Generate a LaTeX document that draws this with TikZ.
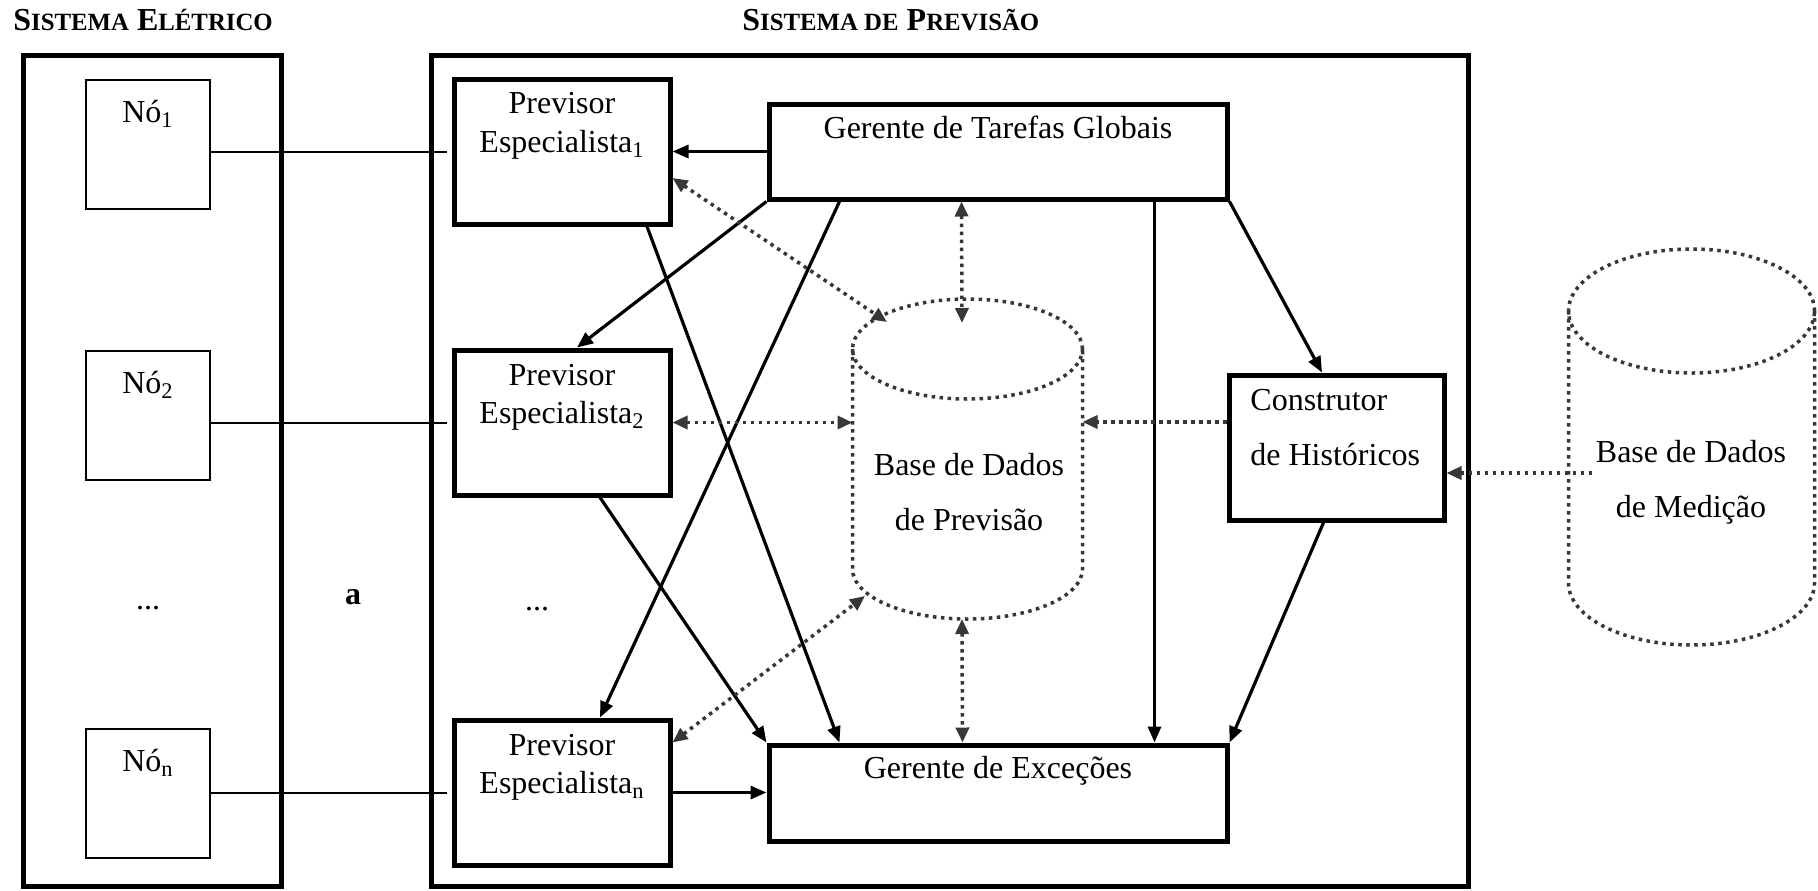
\documentclass[tikz,border=0pt]{standalone}
\usepackage{fontspec}
\setmainfont{Liberation Serif}
\usetikzlibrary{arrows.meta,calc}
\definecolor{dotgray}{RGB}{55,55,55}
\newcommand{\capsmall}{\fontsize{12.4pt}{14pt}\selectfont}
\begin{document}
\begin{tikzpicture}[x=0.5pt,y=-0.5pt,
  every node/.style={inner sep=0pt},
  txt/.style={font=\fontsize{16pt}{19pt}\selectfont, anchor=base},
  txtl/.style={txt, anchor=base west},
  ttl/.style={font=\bfseries\fontsize{16pt}{19pt}\selectfont, anchor=base west},
  frame/.style={draw, rectangle, line width=2.5pt},
  nobox/.style={draw, rectangle, line width=1pt, minimum width=62pt, minimum height=64.5pt},
  pbox/.style={frame, minimum width=108pt, minimum height=72.5pt},
  dbshape/.style={rectangle, outer sep=0pt},
  wire/.style={line width=1pt, shorten >=2.5pt},
  flow/.style={line width=1.6pt, -{Triangle[length=8pt,width=6.5pt]}},
  dotline/.style={draw=dotgray, line width=1.75pt, dash pattern=on 1.75pt off 2.25pt},
  dotarrow/.style={dotline, {Triangle[length=7.5pt,width=6.5pt]}-{Triangle[length=7.5pt,width=6.5pt]}},
  dotarrowone/.style={dotline, -{Triangle[length=7.5pt,width=6.5pt]}}
]
\useasboundingbox (0,0) rectangle (1818,890);

% titles
\node[ttl] (t1) at (13,30) {S{\capsmall ISTEMA} E{\capsmall LÉTRICO}};
\node[ttl] (t2) at (742,30) {S{\capsmall ISTEMA DE} P{\capsmall REVISÃO}};

% outer frames
\node[frame, minimum width=129pt, minimum height=415.75pt] (sel) at (152,470.75) {};
\node[frame, minimum width=518.5pt, minimum height=415.75pt] (spr) at (949.5,470.75) {};

% electrical nodes
\node[nobox] (n1) at (148,144.5) {};
\node[nobox] (n2) at (148,415.5) {};
\node[nobox] (nn) at (148,793.5) {};
\node[txt] (n1t) at (148,122) {Nó\textsubscript{1}};
\node[txt] (n2t) at (148,393) {Nó\textsubscript{2}};
\node[txt] (nnt) at (148,771) {Nó\textsubscript{n}};
\node[txt] (dots1) at (148,609) {...};
\node[txt, font=\bfseries\fontsize{16pt}{19pt}\selectfont] (lbla) at (353,604) {a};

% specialist forecasters
\node[pbox] (p1) at (562,151.5) {};
\node[pbox] (p2) at (562,422.5) {};
\node[pbox] (pn) at (562,792.5) {};
\node[txt] (p1a) at (562,113) {Previsor};
\node[txt] (p1b) at (562,152) {Especialista\textsubscript{1}};
\node[txt] (p2a) at (562,385) {Previsor};
\node[txt] (p2b) at (562,423) {Especialista\textsubscript{2}};
\node[txt] (pna) at (562,755) {Previsor};
\node[txt] (pnb) at (562,793) {Especialista\textsubscript{n}};
\node[txt] (dots2) at (537,610) {...};

% managers and history builder
\node[frame, minimum width=229pt, minimum height=47.5pt] (gtg) at (998,151.5) {};
\node[txt] (gtgt) at (998,138) {Gerente de Tarefas Globais};
\node[frame, minimum width=229pt, minimum height=48pt] (ge) at (998,793) {};
\node[txt] (get) at (998,778) {Gerente de Exceções};
\node[pbox, minimum width=107.5pt] (ch) at (1336.5,447.5) {};
\node[txtl] (cha) at (1250,410) {Construtor};
\node[txtl] (chb) at (1250,465) {de Históricos};

% forecast database
\node[dbshape, minimum width=115pt, minimum height=160pt] (dbp) at (967.5,459) {};
\draw[dotline] ($(dbp.north)+(0,50)$) ellipse [x radius=57.5pt, y radius=25pt];
\draw[dotline] ($(dbp.north west)+(0,50)$) -- ($(dbp.south west)+(0,-50)$)
  arc[start angle=180, end angle=360, x radius=57.5pt, y radius=25pt]
  -- ($(dbp.north east)+(0,50)$);
\node[txt] (dbpa) at (969,475) {Base de Dados};
\node[txt] (dbpb) at (969,530) {de Previsão};

% measurement database
\node[dbshape, minimum width=123pt, minimum height=198pt] (dbm) at (1691.5,447) {};
\draw[dotline] ($(dbm.north)+(0,62)$) ellipse [x radius=61.5pt, y radius=31pt];
\draw[dotline] ($(dbm.north west)+(0,62)$) -- ($(dbm.south west)+(0,-62)$)
  arc[start angle=180, end angle=360, x radius=61.5pt, y radius=31pt]
  -- ($(dbm.north east)+(0,62)$);
\node[txt] (dbma) at (1691,462) {Base de Dados};
\node[txt] (dbmb) at (1691,517) {de Medição};

% links from the electrical nodes
\draw[wire] (p1.west -| n1.east) -- (p1.west);
\draw[wire] (p2.west -| n2.east) -- (p2.west);
\draw[wire] (pn.west -| nn.east) -- (pn.west);

% control flow
\draw[flow] (gtg.west) -- (gtg.west -| p1.east);
\draw[flow] (gtg.south west) -- ($(p2.north)+(15,0)$);
\draw[flow] ($(gtg.south west)+(73,0)$) -- ($(pn.north)+(38,0)$);
\draw[flow] ($(gtg.south west)+(388,0)$) -- ($(ge.north west)+(388,0)$);
\draw[flow] (gtg.south east) -- ($(ch.north)+(-14.5,0)$);
\draw[flow] ($(p1.south)+(85,0)$) -- ($(ge.north west)+(73,0)$);
\draw[flow] ($(p2.south)+(38,0)$) -- (ge.north west);
\draw[flow] (pn.east) -- (pn.east -| ge.west);
\draw[flow] ($(ch.south)+(-13,0)$) -- (ge.north east);

% data exchange
\draw[dotarrow] ($(p1.east)+(0,26.5)$) -- ($(dbp)+(-80.5,-137)$);
\draw[dotarrow] ($(gtg.south west)+(195,0)$) -- ($(dbp)+(-5.5,-136)$);
\draw[dotarrow] (p2.east) -- (p2.east -| dbp.west);
\coordinate (chin) at ($(ch.west)+(0,-25.5)$);
\draw[dotarrowone] (chin) -- (chin -| dbp.east);
\draw[dotarrow] ($(pn.east)+(0,-50)$) -- ($(dbp)+(-102.5,137)$);
\draw[dotarrow] ($(dbp.south)+(-5.5,0)$) -- ($(ge.north)+(-35.5,0)$);
\coordinate (mdout) at ($(dbm.west)+(23.5,26)$);
\draw[dotarrowone] (mdout) -- (mdout -| ch.east);
\end{tikzpicture}
\end{document}
